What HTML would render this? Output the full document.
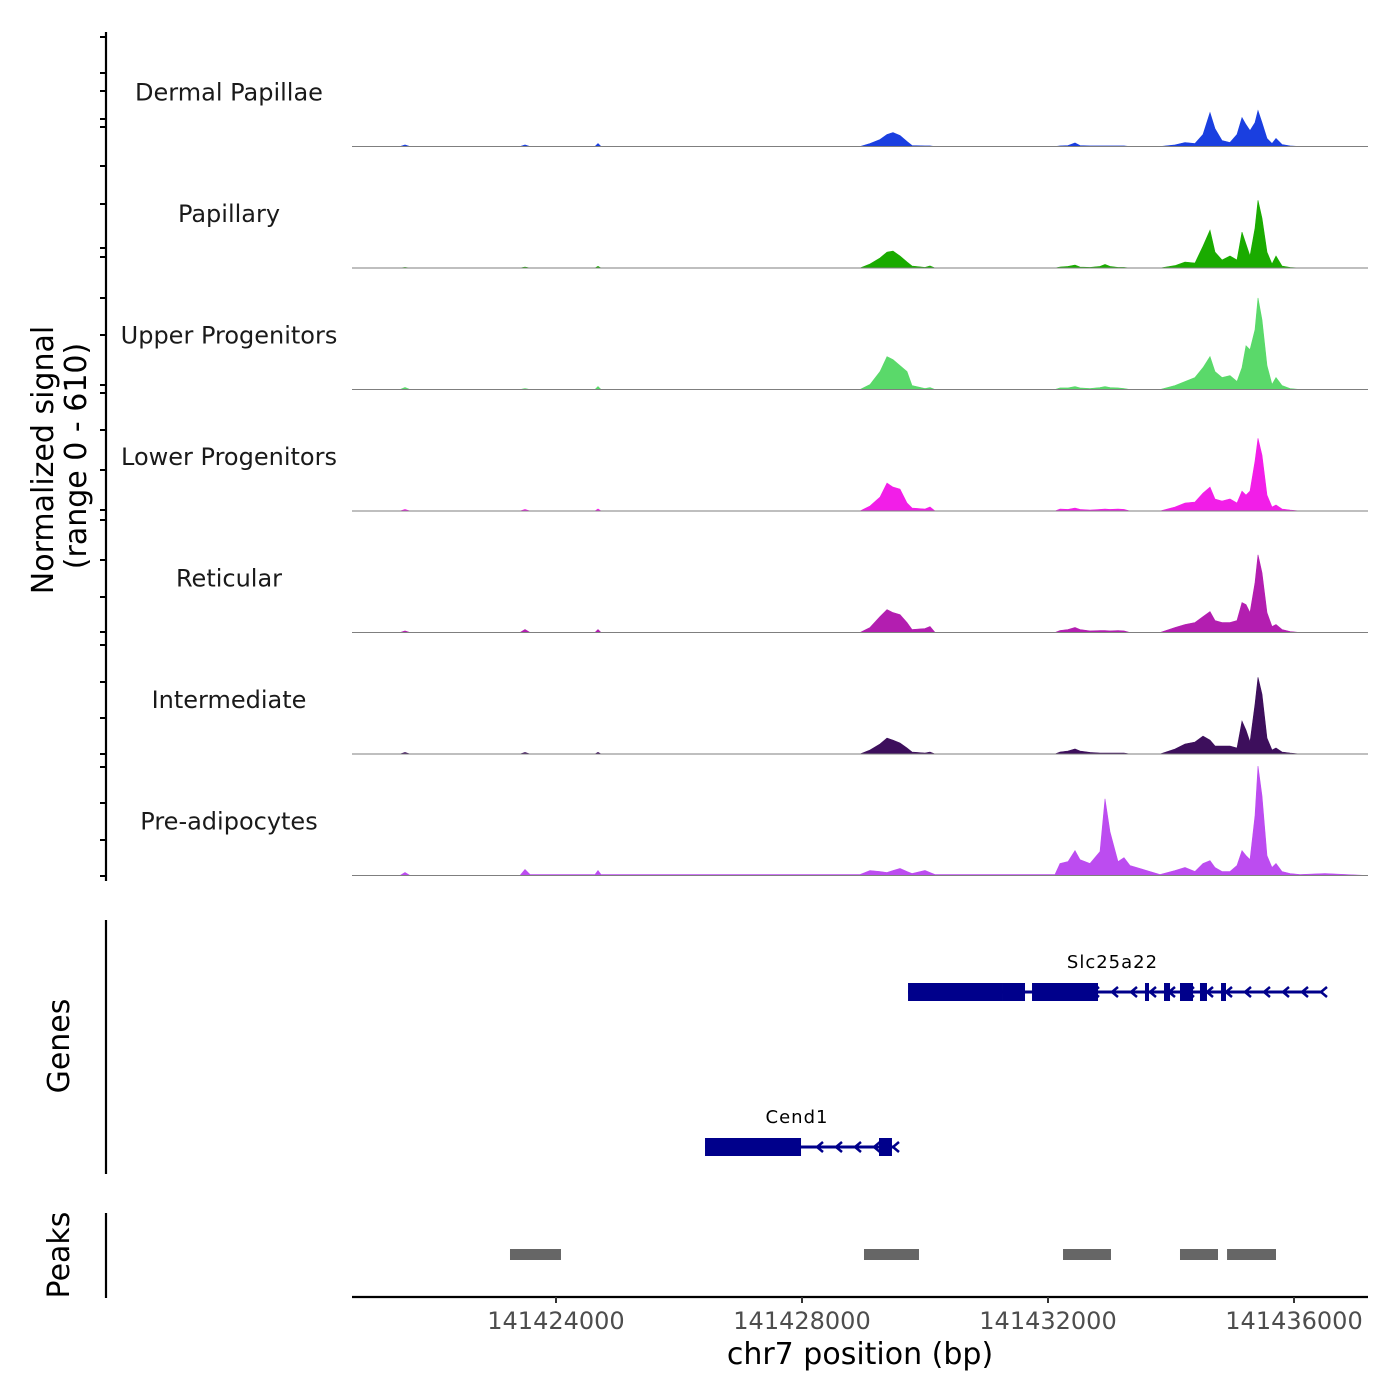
<!DOCTYPE html>
<html><head><meta charset="utf-8"><style>
html,body{margin:0;padding:0;background:#fff;}
svg{display:block;font-family:"DejaVu Sans","Liberation Sans",sans-serif;}
</style></head><body>
<svg id="chart" width="1400" height="1400" viewBox="0 0 1400 1400" xmlns="http://www.w3.org/2000/svg"></svg>
<script>
const positions=[141420683,141421463,141421545,141421626,141423415,141423496,141423577,141424634,141424683,141424732,141428943,141429106,141429268,141429382,141429480,141429593,141429707,141429789,141430000,141430081,141430163,141432114,141432195,141432325,141432439,141432520,141432683,141432845,141432927,141433008,141433138,141433236,141433333,141433821,141434065,141434228,141434390,141434520,141434634,141434715,141434829,141434959,141435073,141435154,141435219,141435284,141435366,141435414,141435479,141435561,141435642,141435707,141435805,141435935,141436097,141436503,141437203];
const trackNames=["Dermal Papillae","Papillary","Upper Progenitors","Lower Progenitors","Reticular","Intermediate","Pre-adipocytes"];
const trackColors=["#1a3fe0","#1aab00","#5ad96a","#f21ee8","#b31eb0","#3d0f5c","#bc4cf0"];
const sigDP=[0,0,8,0,0,8,0,0,15,0,0,15,35,60,70,55,25,5,3,3,0,0,3,5,18,5,3,3,3,3,3,3,0,0,8,20,15,60,170,90,30,20,60,145,110,80,120,180,120,40,15,40,10,3,0,0,0];
const sigPap=[0,0,3,0,0,5,0,0,8,0,0,20,50,80,85,60,30,10,3,10,0,0,5,8,15,5,3,8,18,8,3,3,0,0,12,30,25,110,190,80,40,60,40,180,120,60,200,340,250,80,20,60,10,3,0,0,0];
const sigUP=[0,0,10,0,0,5,0,0,15,0,0,25,90,165,150,120,90,20,5,10,0,0,8,8,15,8,5,10,15,10,8,5,0,0,20,40,60,110,165,90,60,70,40,110,220,200,300,460,350,120,25,60,20,5,0,0,0];
const sigLP=[0,0,8,0,0,8,0,0,10,0,0,25,70,140,120,110,40,15,10,20,0,0,10,8,15,8,5,8,10,8,10,8,0,0,20,40,45,90,120,60,50,60,40,100,80,100,250,365,280,80,20,30,10,5,0,0,0];
const sigRet=[0,0,8,0,0,15,0,0,15,0,0,25,80,115,100,90,50,15,20,30,0,0,10,15,25,15,8,10,10,8,10,8,0,0,25,40,50,80,105,60,50,50,60,150,140,100,250,390,300,100,30,40,15,5,0,0,0];
const sigInt=[0,0,8,0,0,8,0,0,8,0,0,20,50,80,70,55,30,10,5,10,0,0,10,15,25,15,8,5,5,5,5,5,0,0,25,50,60,90,70,40,40,40,30,165,120,60,250,385,300,80,20,30,10,5,0,0,0];
const sigPA=[0,0,15,0,0,30,5,5,25,5,5,25,20,15,25,35,20,10,25,15,5,5,60,70,125,80,60,120,385,220,70,90,50,5,25,40,20,60,75,40,20,20,50,125,100,80,300,550,400,100,40,60,20,10,5,10,0];
const signals=[sigDP,sigPap,sigUP,sigLP,sigRet,sigInt,sigPA];
const xTicks=[141424000,141428000,141432000,141436000];
const xTickLabels=["141424000","141428000","141432000","141436000"];
const yTickPx=[37,73,91,119,127,166,204,248,257,298,335,385,393,430,470,510,520,560,597,632,645,682,718,754,767,803,840,876];
const geneNames=["Slc25a22","Cend1"];
const geneStarts=[141429724,141426423];
const geneEnds=[141436471,141429512];
const slcExons=[[141429724,141431268],[141431268,141431626],[141431740,141432813],[141433577,141433642],[141433886,141433984],[141434146,141434358],[141434471,141434585],[141434813,141434894]];
const cendExons=[[141426423,141427984],[141429252,141429463]];
const peakStarts=[141423252,141429008,141432244,141434146,141434911];
const peakEnds=[141424081,141429902,141433024,141434764,141435707];

const NS="http://www.w3.org/2000/svg";
const svg=document.getElementById('chart');
const X0=352,X1=1368,BP0=141420683,BP1=141437203;
const x=bp=>X0+(bp-BP0)/(BP1-BP0)*(X1-X0);
const TRACK_TOP=25,TRACK_H=121.5,YMAX=610;
function mk(tag,attrs,parent){const e=document.createElementNS(NS,tag);for(const k in attrs)e.setAttribute(k,attrs[k]);(parent||svg).appendChild(e);return e;}

for(let t=0;t<signals.length;t++){
  const base=TRACK_TOP+TRACK_H*(t+1);
  const y=v=>base-v/YMAX*TRACK_H;
  const g=mk('g',{});
  
  
  let d='M'+x(positions[0])+','+base;
  signals[t].forEach((v,i)=>{d+=' L'+x(positions[i]).toFixed(1)+','+y(v).toFixed(1);});
  d+=' L'+x(positions[positions.length-1])+','+base+' Z';
  const a=mk('path',{d:d,fill:trackColors[t],stroke:trackColors[t],'stroke-width':0.6},g);
  
  
  const bl=mk('line',{x1:X0,x2:X1,y1:base,y2:base,stroke:'#7f7f7f','stroke-width':1},g);
  
  
  const lb=mk('text',{x:229,y:base-46,'text-anchor':'middle','font-size':24,fill:'#1a1a1a'},g);
  lb.textContent=trackNames[t];
  
  
}
const ax=mk('line',{x1:106,x2:106,y1:32,y2:881,stroke:'#000','stroke-width':2.2});


yTickPx.forEach(p=>{const l=mk('line',{x1:100,x2:106,y1:p,y2:p,stroke:'#000','stroke-width':2});

});
const ga=mk('line',{x1:106,x2:106,y1:920,y2:1174,stroke:'#000','stroke-width':2.2});


const pa=mk('line',{x1:106,x2:106,y1:1213,y2:1298,stroke:'#000','stroke-width':2.2});


function rotText(txt,cx,cy,name){const e=mk('text',{x:cx,y:cy,'text-anchor':'middle','font-size':30,fill:'#000',transform:'rotate(-90 '+cx+' '+cy+')'});e.textContent=txt;

return e;}
rotText('Normalized signal',53,460,'y-axis-title');
rotText('(range 0 - 610)',86,456,'y-axis-range');
rotText('Genes',69,1046,'genes-title');
rotText('Peaks',69,1255,'peaks-title');

const GC='#00008b';
const geneY=[992,1147];
const geneExons=[slcExons,cendExons];
for(let gi=0;gi<geneNames.length;gi++){
  const g=mk('g',{});
  
  
  const gy=geneY[gi];
  mk('line',{x1:x(geneStarts[gi]),x2:x(geneEnds[gi]),y1:gy,y2:gy,stroke:GC,'stroke-width':3},g);
  const lastExonEnd=geneExons[gi][0][1];
  for(let p=x(geneEnds[gi]);p>x(lastExonEnd)+12;p-=19){
    mk('polyline',{points:(p+4)+','+(gy-5)+' '+(p-2)+','+gy+' '+(p+4)+','+(gy+5),fill:'none',stroke:GC,'stroke-width':2.5},g);
  }
  geneExons[gi].forEach(ex=>{const r=mk('rect',{x:x(ex[0]),y:gy-9,width:Math.max(3,x(ex[1])-x(ex[0])),height:18,fill:GC},g);
  
  });
  const lb=mk('text',{x:(x(geneStarts[gi])+x(geneEnds[gi]))/2-3,y:gy-24,'text-anchor':'middle','font-size':18,fill:'#000','letter-spacing':1},g);
  lb.textContent=geneNames[gi];
  
  
}
peakStarts.forEach((s,i)=>{const r=mk('rect',{x:x(s),y:1249,width:x(peakEnds[i])-x(s),height:11,fill:'#666666'});

});
const xa=mk('line',{x1:X0,x2:X1,y1:1297,y2:1297,stroke:'#000','stroke-width':2.2});


xTicks.forEach((v,i)=>{
  const t=mk('line',{x1:x(v),x2:x(v),y1:1297,y2:1303,stroke:'#333','stroke-width':2});
  
  
  const l=mk('text',{x:x(v),y:1329,'text-anchor':'middle','font-size':24,fill:'#4d4d4d'});
  l.textContent=xTickLabels[i];
  
  
});
const xt=mk('text',{x:860,y:1364,'text-anchor':'middle','font-size':30,fill:'#000'});
xt.textContent='chr7 position (bp)';


</script>
</body></html>
